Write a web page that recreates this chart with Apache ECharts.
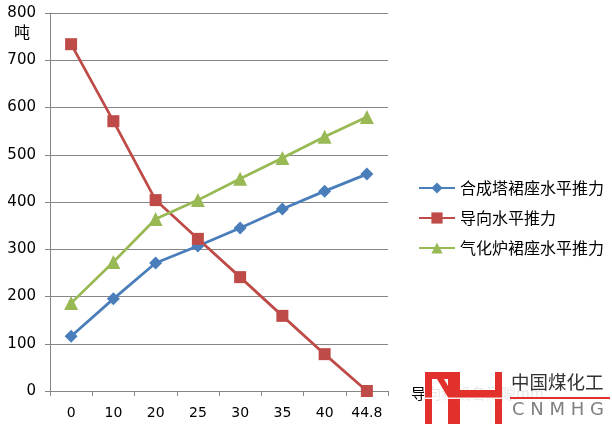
<!DOCTYPE html>
<html><head><meta charset="utf-8">
<script src="https://cdn.jsdelivr.net/npm/echarts@6/dist/echarts.min.js"></script>
<style>html,body{margin:0;padding:0;background:#fff}#c{width:612px;height:430px}</style>
</head><body><div id="c"></div>
<script>
const categories = ['0','10','20','25','30','35','40','44.8'];
const seriesNames = ['合成塔裙座水平推力','导向水平推力','气化炉裙座水平推力'];
const towerThrust = [116,195,271,307,345,385,423,459];
const guideThrust = [734,571,404,322,241,159,78,0];
const gasifierThrust = [186,273,364,404,449,493,538,580];
const yTicks = {min:0, max:800, interval:100};

const font = '"Noto Sans CJK SC", "Noto Sans", sans-serif';
const chart = echarts.init(document.getElementById('c'), null, {renderer:'canvas'});
const grid = '#868686';
const red = '#e2312d';
chart.setOption({
  animation:false,
  textStyle:{fontFamily:font},
  grid:{left:50,right:224,top:13,bottom:39,containLabel:false},
  xAxis:{type:'category',data:categories,boundaryGap:true,
    axisLine:{lineStyle:{color:grid,width:1}},
    axisTick:{show:true,length:5,lineStyle:{color:grid},alignWithLabel:false},
    axisLabel:{color:'#000',fontSize:14,margin:15,fontFamily:'"DejaVu Sans", sans-serif'}},
  yAxis:{type:'value',min:yTicks.min,max:yTicks.max,interval:yTicks.interval,
    axisLine:{show:true,lineStyle:{color:grid,width:1}},
    axisTick:{show:true,length:5,lineStyle:{color:grid}},
    splitLine:{lineStyle:{color:grid,width:1}},
    axisLabel:{color:'#000',fontSize:15,margin:14,fontFamily:'"DejaVu Sans", sans-serif'}},
  legend:{orient:'vertical',left:413,top:175,itemGap:14,itemWidth:36,itemHeight:14,
    textStyle:{fontSize:16,color:'#000',fontFamily:font},
    data:seriesNames},
  series:[
    {name:seriesNames[0],type:'line',data:towerThrust,symbol:'diamond',symbolSize:13,
      itemStyle:{color:'#4a7ebb'},lineStyle:{color:'#4a7ebb',width:2.75}},
    {name:seriesNames[1],type:'line',data:guideThrust,symbol:'rect',symbolSize:12,
      itemStyle:{color:'#be4b48'},lineStyle:{color:'#be4b48',width:2.75}},
    {name:seriesNames[2],type:'line',data:gasifierThrust,symbol:'triangle',symbolSize:14,
      itemStyle:{color:'#98b954'},lineStyle:{color:'#98b954',width:2.75}}
  ],
  graphic:[
    {type:'text',left:14,top:24,style:{text:'吨',fontSize:16,fill:'#000',fontFamily:font}},
    {type:'text',left:411,top:386,style:{text:'导向和设备间隙mm',fontSize:15,fill:'#000',fontFamily:font}},
    {type:'rect',shape:{x:424,y:366,width:188,height:64},style:{fill:'rgba(255,255,255,0.9)'}},
    {type:'group',children:[
      {type:'rect',shape:{x:425,y:372,width:7,height:52},style:{fill:red}},
      {type:'rect',shape:{x:425,y:372,width:35,height:7},style:{fill:red}},
      {type:'polygon',shape:{points:[[437,379],[444,379],[452,393],[452,404]]},style:{fill:red}},
      {type:'rect',shape:{x:448,y:372,width:12,height:52},style:{fill:red}},
      {type:'rect',shape:{x:495,y:372,width:7,height:52},style:{fill:red}},
      {type:'rect',shape:{x:460,y:390,width:35,height:8},style:{fill:red}},
      {type:'rect',shape:{x:422,y:397.5,width:84,height:1.5},style:{fill:'rgba(255,255,255,0.9)'}}
    ]},
    {type:'text',left:511,top:373,style:{text:'中国煤化工',fontSize:18.5,fill:'#333',fontFamily:font}},
    {type:'rect',shape:{x:510,y:397,width:100,height:2},style:{fill:red}},
    {type:'text',left:512,top:401,style:{text:'C N M H G',fontSize:18,fill:'#808080',fontFamily:'"DejaVu Sans", sans-serif'}}
  ]
});
</script></body></html>
